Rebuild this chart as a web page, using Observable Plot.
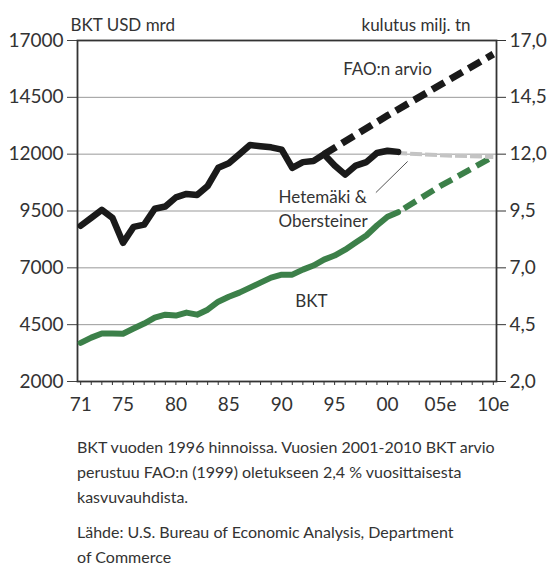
<!DOCTYPE html>
<html>
<head>
<meta charset="utf-8">
<script src="https://cdn.jsdelivr.net/npm/d3@7"></script>
<script src="https://cdn.jsdelivr.net/npm/@observablehq/plot@0.6"></script>
<style>
  body { margin: 0; background: white; }
  #caption { font-family: Lato, "Open Sans", sans-serif; color: #333; font-size: 16px; line-height: 25px; padding-left: 77px; margin-top: 14px; }
  #caption p { margin: 0 0 10px 0; }
</style>
</head>
<body>
<div id="chart"></div>
<div id="caption">
  <p>BKT vuoden 1996 hinnoissa. Vuosien 2001-2010 BKT arvio<br>perustuu FAO:n (1999) oletukseen 2,4 % vuosittaisesta<br>kasvuvauhdista.</p>
  <p>Lähde: U.S. Bureau of Economic Analysis, Department<br>of Commerce</p>
</div>
<script>
// Actual years (solid lines)
const years = [1971,1972,1973,1974,1975,1976,1977,1978,1979,1980,1981,1982,1983,1984,1985,1986,1987,1988,1989,1990,1991,1992,1993,1994,1995,1996,1997,1998,1999,2000,2001];
// Paper consumption, million tonnes (right axis)
const consumption = [8.85,9.2,9.55,9.2,8.1,8.8,8.9,9.6,9.7,10.1,10.25,10.2,10.6,11.4,11.6,12.0,12.4,12.35,12.3,12.2,11.4,11.65,11.7,12.0,11.5,11.1,11.5,11.65,12.05,12.15,12.1];
// GDP, USD billion (left axis)
const gdp = [3700,3930,4110,4110,4100,4330,4550,4810,4940,4900,5030,4940,5160,5510,5730,5910,6130,6350,6570,6700,6700,6920,7100,7360,7540,7800,8110,8420,8860,9250,9450];
// FAO forecast for consumption
const faoYears = [1994,2000,2005,2010];
const faoValues = [12.0,13.7,15.05,16.4];
// Hetemäki & Obersteiner forecast
const hoYears = [2001,2005,2010];
const hoValues = [12.05,11.95,11.88];
// GDP estimate
const gdpEstYears = [2001,2005,2010];
const gdpEstValues = [9450,10600,11900];

const yTicks = [2000,4500,7000,9500,12000,14500,17000];
const allYears = d3.range(1971, 2011);
const xLabelYears = [1971,1975,1980,1985,1990,1995,2000,2005,2010];
const xLabels = ["71","75","80","85","90","95","00","05e","10e"];

const solidCons = years.map((y,i) => ({year:y, v: consumption[i]*1000}));
const solidGdp = years.map((y,i) => ({year:y, v: gdp[i]}));
const fao = faoYears.map((y,i) => ({year:y, v: faoValues[i]*1000}));
const ho = hoYears.map((y,i) => ({year:y, v: hoValues[i]*1000}));
const gdpEst = gdpEstYears.map((y,i) => ({year:y, v: gdpEstValues[i]}));
const xLab = xLabelYears.map((y,i) => ({year:y, label:xLabels[i]}));

const annotations = [
  {year: 2000, v: 15720, text: "FAO:n arvio", anchor: "middle"},
  {year: 1989.7, v: 10090, text: "Hetemäki &", anchor: "start"},
  {year: 1989.7, v: 9036, text: "Obersteiner", anchor: "start"},
  {year: 1992.8, v: 5516, text: "BKT", anchor: "middle"}
];
const leader = [{x1: 1998.9, y1: 10310, x2: 2001.9, y2: 11680}];

const textColor = "#333";
const chart = Plot.plot({
  width: 551,
  height: 420,
  marginTop: 40,
  marginBottom: 39,
  marginLeft: 77,
  marginRight: 55,
  style: {fontFamily: "Lato, 'Open Sans', sans-serif", fontSize: "19px", color: textColor, background: "white"},
  x: {domain: [1970.7, 2010.3]},
  y: {domain: [2000, 17000]},
  marks: [
    Plot.gridY(yTicks.slice(1, -1), {stroke: "#999", strokeOpacity: 1, strokeWidth: 1}),
    Plot.axisY({ticks: yTicks, anchor: "left", tickSize: 10, tickPadding: 4, label: null, tickFormat: d => String(d), fontSize: 19, stroke: "#444"}),
    Plot.axisY({ticks: yTicks, anchor: "right", tickSize: 9, tickPadding: 4, label: null, tickFormat: d => (d/1000).toFixed(1).replace(".", ","), fontSize: 19}),
    Plot.axisX({ticks: allYears, tickSize: 4, tickFormat: () => "", label: null}),
    Plot.text(xLab, {x: "year", y: 2000, text: "label", dy: 23, fontSize: 19, fill: textColor}),
    Plot.frame({stroke: "#333", strokeWidth: 1.8}),
    // forecasts
    Plot.line(gdpEst, {x: "year", y: "v", stroke: "#3c8049", strokeWidth: 6, strokeDasharray: "14,7", strokeDashoffset: 14, strokeLinecap: "butt"}),
    Plot.line(ho, {x: "year", y: "v", stroke: "#c4c4c4", strokeWidth: 4, strokeDasharray: "12,3", strokeDashoffset: 18, strokeLinecap: "butt"}),
    Plot.line(fao, {x: "year", y: "v", stroke: "#1a1a1a", strokeWidth: 7, strokeDasharray: "14,7", strokeDashoffset: 0, strokeLinecap: "butt"}),
    // actuals
    Plot.line(solidGdp, {x: "year", y: "v", stroke: "#3c8049", strokeWidth: 6, strokeLinejoin: "round"}),
    Plot.line(solidCons, {x: "year", y: "v", stroke: "#1a1a1a", strokeWidth: 6.5, strokeLinejoin: "round"}),
    // leader line & annotations
    Plot.link(leader, {x1: "x1", y1: "y1", x2: "x2", y2: "y2", stroke: "#555", strokeWidth: 1}),
    Plot.text(annotations.filter(d => d.anchor === "middle"), {x: "year", y: "v", text: "text", textAnchor: "middle", fontSize: 17, fill: textColor}),
    Plot.text(annotations.filter(d => d.anchor === "start"), {x: "year", y: "v", text: "text", textAnchor: "start", fontSize: 17, fill: textColor}),
    // axis titles
    Plot.text(["BKT USD mrd"], {frameAnchor: "top-left", textAnchor: "start", dx: -7, dy: -22, fontSize: 17, fill: textColor}),
    Plot.text(["kulutus milj. tn"], {frameAnchor: "top-right", textAnchor: "end", dx: -26, dy: -22, fontSize: 17, fill: textColor})
  ]
});
document.getElementById("chart").appendChild(chart);
</script>
</body>
</html>
